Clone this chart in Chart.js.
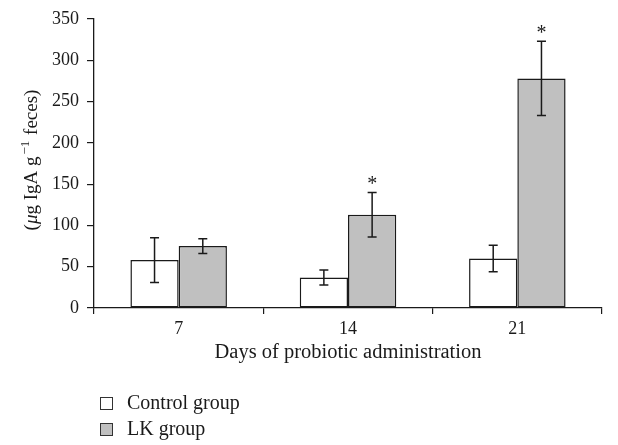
<!DOCTYPE html>
<html><head><meta charset="utf-8">
<script src="https://cdn.jsdelivr.net/npm/chart.js@4.4.1/dist/chart.umd.min.js"></script>
<style>html,body{margin:0;padding:0;background:#fff}#wrap{width:618px;height:445px}</style>
</head><body><div id="wrap"><canvas id="c"></canvas></div>
<script>
const categories = ['7', '14', '21'];
const controlMean = [58, 37, 60];
const controlErr = [27, 9, 16];
const lkMean = [75, 113, 278];
const lkErr = [9, 27, 45];
const significant = [false, true, true];
const seriesNames = ['Control group', 'LK group'];
const xTitle = 'Days of probiotic administration';

const SERIF = '"Liberation Serif", "DejaVu Serif", serif';
const INK = '#1a1a1a';

const extras = {
  id: 'extras',
  afterDatasetsDraw(chart) {
    const ctx = chart.ctx;
    const y = chart.scales.y;
    const sets = [[controlMean, controlErr], [lkMean, lkErr]];
    ctx.save();
    ctx.strokeStyle = INK;
    ctx.lineWidth = 1.5;
    sets.forEach(([m, e], di) => {
      const meta = chart.getDatasetMeta(di);
      meta.data.forEach((bar, i) => {
        const x = bar.x;
        const yt = y.getPixelForValue(m[i] + e[i]);
        const yb = y.getPixelForValue(m[i] - e[i]);
        ctx.beginPath();
        ctx.moveTo(x, yt); ctx.lineTo(x, yb);
        ctx.moveTo(x - 4.5, yt); ctx.lineTo(x + 4.5, yt);
        ctx.moveTo(x - 4.5, yb); ctx.lineTo(x + 4.5, yb);
        ctx.stroke();
        if (di === 1 && significant[i]) {
          ctx.fillStyle = INK;
          ctx.font = '20px ' + SERIF;
          ctx.textAlign = 'center';
          ctx.textBaseline = 'alphabetic';
          ctx.fillText('*', x, yt - 2);
        }
      });
    });
    ctx.restore();
  },
  afterDraw(chart) {
    const ctx = chart.ctx;
    const area = chart.chartArea;
    ctx.save();
    ctx.fillStyle = INK;
    // x title
    ctx.font = '20.5px ' + SERIF;
    ctx.textAlign = 'center';
    ctx.textBaseline = 'alphabetic';
    ctx.fillText(xTitle, (area.left + area.right) / 2, 358);
    // y title
    ctx.save();
    ctx.translate(37, 160);
    ctx.rotate(-Math.PI / 2);
    const parts = [
      ['(', '19px ' + SERIF, 0],
      ['\u03BC', 'italic 19px ' + SERIF, 0],
      ['g IgA g', '19px ' + SERIF, 0],
      ['\u22121', '13px ' + SERIF, -8],
      [' feces)', '19px ' + SERIF, 0]
    ];
    let total = 0;
    parts.forEach(p => { ctx.font = p[1]; total += ctx.measureText(p[0]).width + (p[0] === '\u22121' ? 3 : 0); });
    let cx = -total / 2;
    ctx.textAlign = 'left';
    parts.forEach(p => {
      ctx.font = p[1];
      const w = ctx.measureText(p[0]).width;
      const pad = p[0] === '\u22121' ? 2 : 0;
      ctx.fillText(p[0], cx + pad, p[2]);
      cx += w + (p[0] === '\u22121' ? 3 : 0);
    });
    ctx.restore();
    // legend
    const ds = chart.data.datasets;
    ctx.font = '20px ' + SERIF;
    ctx.textAlign = 'left';
    ds.forEach((d, i) => {
      const by = 397 + i * 26;
      ctx.fillStyle = d.backgroundColor;
      ctx.fillRect(100, by, 12, 12);
      ctx.strokeStyle = '#333';
      ctx.lineWidth = 1;
      ctx.strokeRect(100.5, by + 0.5, 12, 12);
      ctx.fillStyle = INK;
      ctx.fillText(seriesNames[i], 127, by + 12);
    });
    ctx.restore();
  }
};

new Chart(document.getElementById('c'), {
  type: 'bar',
  data: {
    labels: categories,
    datasets: [
      { label: seriesNames[0], data: controlMean, backgroundColor: '#ffffff', borderColor: INK, borderWidth: 1.5, borderSkipped: false },
      { label: seriesNames[1], data: lkMean, backgroundColor: '#c0c0c0', borderColor: INK, borderWidth: 1.5, borderSkipped: false }
    ]
  },
  options: {
    responsive: true,
    maintainAspectRatio: false,
    animation: false,
    events: [],
    layout: { padding: { top: 19, right: 16, left: 0, bottom: 0 } },
    datasets: { bar: { barPercentage: 1, categoryPercentage: 0.57 } },
    plugins: { legend: { display: false }, tooltip: { enabled: false } },
    scales: {
      x: {
        afterFit(s) { s.height = 137; },
        grid: { display: true, offset: true, drawOnChartArea: false, drawTicks: true, tickLength: 6, color: INK, lineWidth: 1.2 },
        border: { display: true, color: INK, width: 1.3 },
        ticks: { color: INK, font: { family: SERIF, size: 18 }, padding: 4 }
      },
      y: {
        min: 0, max: 350,
        afterFit(s) { s.width = 94; },
        grid: { display: true, drawOnChartArea: false, drawTicks: true, tickLength: 7, color: INK, lineWidth: 1.2 },
        border: { display: true, color: INK, width: 1.3 },
        ticks: { stepSize: 50, color: INK, font: { family: SERIF, size: 18 }, padding: 8 }
      }
    }
  },
  plugins: [extras]
});
</script></body></html>
